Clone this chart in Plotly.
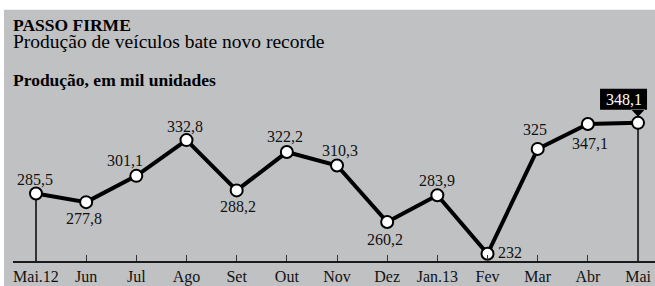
import plotly.graph_objects as go

months = ["Mai.12", "Jun", "Jul", "Ago", "Set", "Out", "Nov", "Dez", "Jan.13", "Fev", "Mar", "Abr", "Mai"]
production = [285.5, 277.8, 301.1, 332.8, 288.2, 322.2, 310.3, 260.2, 283.9, 232, 325, 347.1, 348.1]
value_labels = ["285,5", "277,8", "301,1", "332,8", "288,2", "322,2", "310,3", "260,2", "283,9", "232", "325", "347,1", "348,1"]

# label offsets (pixels) relative to each point: dx right, dy up
label_dx = [-1, -2, -11, -1, 1, -2, 3, -2, 0, 22, -3, 2.5]
label_dy = [14, -16, 15, 14, -16.5, 16, 14.7, -18, 14.5, 1.7, 19, -19.6]

W, H = 655, 286
L, R, T, B = 13, 0, 80, 23
PW, PH = W - L - R, H - T - B

def px(x):
    return (x - L) / PW

def py(y):
    return 1 - (y - T) / PH

serif = "Liberation Serif, Times New Roman, serif"
bg = "#c0c1c3"

idx = list(range(len(months)))

fig = go.Figure()
fig.add_trace(go.Scatter(
    x=idx, y=production, mode="lines+markers",
    line=dict(color="black", width=4),
    marker=dict(size=12, color="white", line=dict(color="black", width=2)),
    hoverinfo="skip", showlegend=False, cliponaxis=False,
))

ymin, ymax = 225.6, 386.1
shapes = [
    dict(type="rect", xref="paper", yref="paper", x0=px(4), x1=1.02, y0=-0.3, y1=py(9),
         fillcolor=bg, line=dict(width=0), layer="below"),
    dict(type="line", xref="x", yref="y", x0=idx[0], x1=idx[0], y0=ymin, y1=production[0],
         line=dict(color="#333333", width=2), layer="below"),
    dict(type="line", xref="x", yref="y", x0=idx[-1], x1=idx[-1], y0=ymin, y1=production[-1],
         line=dict(color="#333333", width=2), layer="below"),
    dict(type="path", xsizemode="pixel", ysizemode="pixel", xref="x", yref="y",
         xanchor=idx[-1], yanchor=production[-1],
         path="M -38,13 L 9,13 L 9,34 L -38,34 Z M -7,13.5 L 0,6 L 7,13.5 Z",
         fillcolor="black", line=dict(width=0), layer="above"),
]

annotations = [
    dict(text="<b>PASSO FIRME</b>", xref="paper", yref="paper", x=px(11), y=py(24.5),
         xanchor="left", yanchor="middle", showarrow=False,
         font=dict(family=serif, size=17.5, color="black")),
    dict(text="Produção de veículos bate novo recorde", xref="paper", yref="paper", x=px(11), y=py(41.5),
         xanchor="left", yanchor="middle", showarrow=False,
         font=dict(family=serif, size=19.5, color="black")),
    dict(text="<b>Produção, em mil unidades</b>", xref="paper", yref="paper", x=px(11), y=py(80),
         xanchor="left", yanchor="middle", showarrow=False,
         font=dict(family=serif, size=17.5, color="black")),
]
for i in range(len(months) - 1):
    annotations.append(dict(
        text=value_labels[i], x=idx[i], y=production[i], xref="x", yref="y",
        xshift=label_dx[i], yshift=label_dy[i], showarrow=False,
        xanchor="center", yanchor="middle",
        font=dict(family=serif, size=16, color="#111111"),
    ))
annotations.append(dict(
    text=value_labels[-1], x=idx[-1], y=production[-1], xref="x", yref="y",
    xshift=-14.5, yshift=23.5, showarrow=False, xanchor="center", yanchor="middle",
    font=dict(family=serif, size=16, color="white"),
))

fig.update_layout(
    width=W, height=H,
    margin=dict(l=L, r=R, t=T, b=B),
    paper_bgcolor="white", plot_bgcolor="rgba(0,0,0,0)",
    shapes=shapes, annotations=annotations,
    xaxis=dict(
        range=[-0.458, 12.338], tickmode="array", tickvals=idx, ticktext=months,
        showline=True, linecolor="#1a1a1a", linewidth=2,
        ticks="inside", ticklen=6, tickwidth=1, tickcolor="#333333",
        showgrid=False, zeroline=False, fixedrange=True,
        tickfont=dict(family=serif, size=16, color="#111111"),
    ),
    yaxis=dict(range=[ymin, ymax], visible=False, showgrid=False, zeroline=False, fixedrange=True),
)

fig.write_html("out.html", config={"displayModeBar": False},
               post_script="document.body.style.margin='0';document.body.style.overflow='hidden';")
